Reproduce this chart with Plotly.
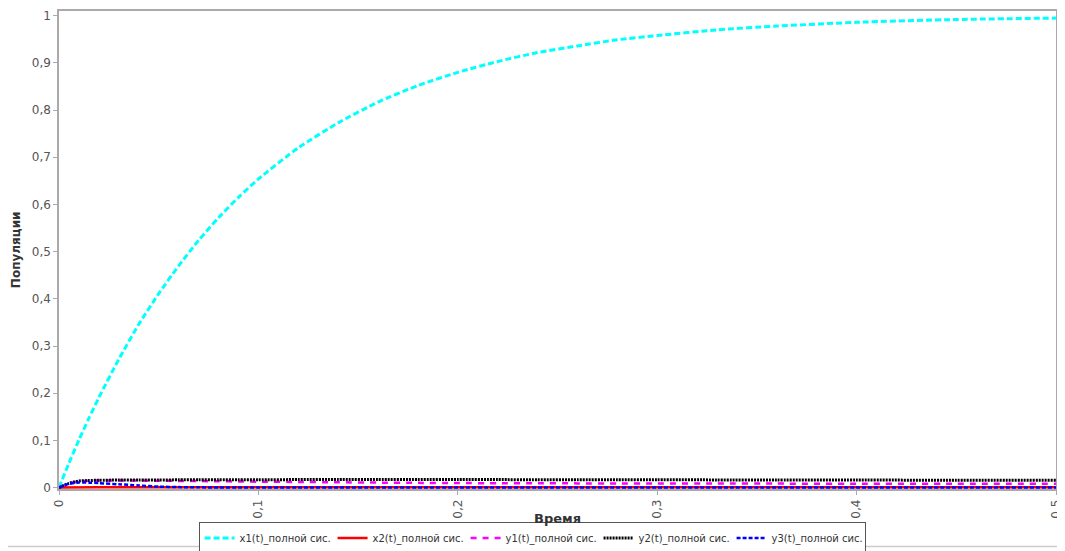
import plotly.graph_objects as go

# Time grid (shared by all series)
T = [0, 0.005, 0.01, 0.015, 0.02, 0.03, 0.04, 0.05, 0.06, 0.07, 0.08, 0.09, 0.10,
     0.12, 0.14, 0.16, 0.18, 0.20, 0.22, 0.24, 0.26, 0.28, 0.30, 0.33, 0.36, 0.40, 0.45, 0.50]

X1 = [0, 0.052, 0.101, 0.147, 0.191, 0.272, 0.346, 0.411, 0.470, 0.524, 0.572, 0.615, 0.654,
      0.720, 0.773, 0.817, 0.852, 0.880, 0.903, 0.922, 0.936, 0.949, 0.958, 0.970, 0.978, 0.986, 0.992, 0.995]
X2 = [0, 0.0004, 0.0005, 0.0005, 0.0005, 0.0005, 0.0005, 0.0005, 0.0005, 0.0005, 0.0005, 0.0005, 0.0005,
      0.0005, 0.0005, 0.0005, 0.0005, 0.0005, 0.0005, 0.0005, 0.0005, 0.0005, 0.0005, 0.0005, 0.0005, 0.0005, 0.0005, 0.0005]
Y1 = [0, 0.008, 0.013, 0.0145, 0.015, 0.015, 0.0148, 0.0145, 0.0142, 0.0138, 0.0134, 0.013, 0.0125,
      0.012, 0.0112, 0.0105, 0.010, 0.0096, 0.0093, 0.0091, 0.0089, 0.0088, 0.0087, 0.0085, 0.0084, 0.0083, 0.0081, 0.008]
Y2 = [0, 0.009, 0.014, 0.015, 0.0155, 0.016, 0.016, 0.0162, 0.0164, 0.0165, 0.0166, 0.0167, 0.0168,
      0.0169, 0.017, 0.017, 0.017, 0.017, 0.0169, 0.0168, 0.0167, 0.0166, 0.0165, 0.0163, 0.0161, 0.0159, 0.0157, 0.0155]
Y3 = [0, 0.008, 0.011, 0.0105, 0.0095, 0.007, 0.0045, 0.002, 0.001, 0.0005, 0.0003, 0.0002, 0.0002,
      0.0002, 0.0002, 0.0002, 0.0002, 0.0002, 0.0002, 0.0002, 0.0002, 0.0002, 0.0002, 0.0002, 0.0002, 0.0002, 0.0002, 0.0002]

NAMES = ["x1(t)_полной сис.", "x2(t)_полной сис.", "y1(t)_полной сис.",
         "y2(t)_полной сис.", "y3(t)_полной сис."]
X_TICKS = [0, 0.1, 0.2, 0.3, 0.4, 0.5]
Y_TICKS = [0, 0.1, 0.2, 0.3, 0.4, 0.5, 0.6, 0.7, 0.8, 0.9, 1]
X_TITLE = "Время"
Y_TITLE = "Популяции"

FONT = "DejaVu Sans"

fig = go.Figure()
styles = [
    dict(color="#00FFFF", width=3, dash="6px,3px", shape="spline"),
    dict(color="#FF0000", width=2.5, dash="solid", shape="linear"),
    dict(color="#FF00FF", width=2.5, dash="6px,6px", shape="spline"),
    dict(color="#000000", width=3, dash="2px,1px", shape="spline"),
    dict(color="#0000FF", width=2.5, dash="4px,2px", shape="spline"),
]
for name, ys, st in zip(NAMES, [X1, X2, Y1, Y2, Y3], styles):
    fig.add_trace(go.Scatter(x=T, y=ys, mode="lines", name=name,
                             line=dict(smoothing=0.6, **st)))

# The page body has an 8px margin, so the figure is 8px smaller and offset.
fig.update_layout(
    width=1057, height=543,
    margin=dict(l=51, r=9, t=3, b=62, autoexpand=False),
    plot_bgcolor="white", paper_bgcolor="white",
    separators=", ",
    font=dict(family=FONT, size=11, color="#444"),
    showlegend=True,
    legend=dict(orientation="h", xref="paper", yref="paper",
                x=0.4745, xanchor="center", y=-0.1025, yanchor="middle",
                bordercolor="#555", borderwidth=1, bgcolor="white",
                font=dict(family=FONT, size=10, color="#333"),
                itemwidth=30, tracegroupgap=0, entrywidth=88, entrywidthmode="pixels"),
    shapes=[dict(type="line", xref="paper", yref="paper", x0=-0.06, x1=1.02,
                 y0=-0.1203, y1=-0.1203, line=dict(color="#cccccc", width=1.5), layer="below")],
    annotations=[
        dict(text="<b>" + X_TITLE + "</b>", xref="paper", yref="paper", x=0.5, y=-0.0607,
             xanchor="center", yanchor="middle", showarrow=False,
             font=dict(family=FONT, size=13, color="#333")),
        dict(text="<b>" + Y_TITLE + "</b>", xref="paper", yref="paper", x=-0.043, y=0.5,
             xanchor="center", yanchor="middle", showarrow=False, textangle=-90,
             font=dict(family=FONT, size=12, color="#333")),
    ],
)
fig.update_xaxes(range=[0, 0.5], tickvals=X_TICKS, tickangle=-90, automargin=False,
                 showgrid=False, zeroline=False, showline=True, linecolor="#aaa", linewidth=1.5,
                 mirror=True, ticks="outside", ticklen=4, tickcolor="#aaa",
                 tickfont=dict(family=FONT, size=12, color="#555"))
fig.update_yaxes(range=[-0.003, 1.01], tickvals=Y_TICKS, automargin=False,
                 showgrid=False, zeroline=False, showline=True, linecolor="#aaa", linewidth=1.5,
                 mirror=True, ticks="outside", ticklen=4, tickcolor="#aaa",
                 tickfont=dict(family=FONT, size=12, color="#555"))

fig.write_html("out.html")
